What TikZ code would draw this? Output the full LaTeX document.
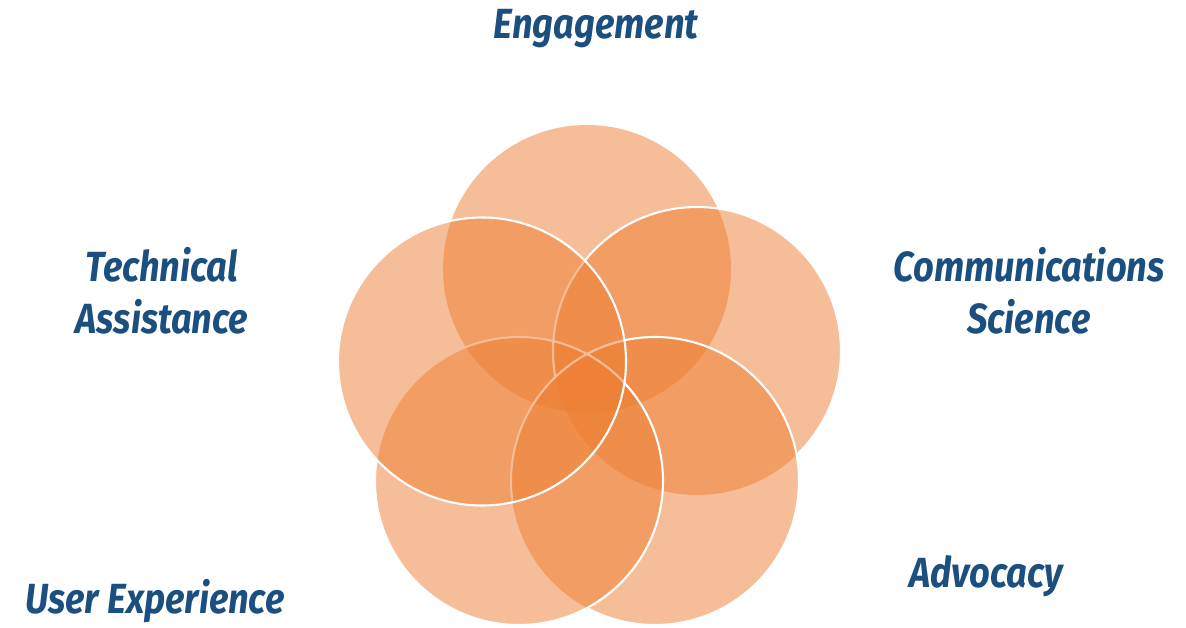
\documentclass[tikz,border=0pt]{standalone}
\usepackage{fontspec}
\newfontfamily\labelfont[FakeStretch=0.86]{Fira Sans}
\definecolor{petalorange}{HTML}{ED7D31}
\definecolor{labelblue}{HTML}{1A4F80}

\begin{document}
\begin{tikzpicture}[
  x=0.02cm, y=0.02cm,
  petal/.style={fill=petalorange, fill opacity=0.5},
  rim/.style={draw=white, line width=1.2pt},
  lbl/.style={font=\labelfont\bfseries\itshape\fontsize{24}{29.6}\selectfont,
              text=labelblue, align=center, anchor=base, inner sep=0pt}
]
\def\rad{144}
\useasboundingbox (0,0) rectangle (1186,627);

%% ── Petal centres ─────────────────────────────────────────────────────────────
\coordinate (eng) at (587,358);
\coordinate (com) at (697,276);
\coordinate (adv) at (655,146);
\coordinate (usr) at (519,146);
\coordinate (tec) at (482,265.5);

%% ── First four petals ─────────────────────────────────────────────────────────
\fill[petal] (eng) circle[radius=\rad];
\fill[petal] (com) circle[radius=\rad];
\fill[petal] (adv) circle[radius=\rad];
\fill[petal] (usr) circle[radius=\rad];

%% ── White rims (they show through the last petal) ────────────────────────────
\begin{scope}[even odd rule]
  \clip (0,0) -- (0,627) -- (1186,627) -- (1186,0) -- cycle
        (adv) circle[radius=\rad];
  \draw[rim] (com) circle[radius=\rad];
\end{scope}
\begin{scope}[even odd rule]
  \clip (0,0) -- (0,627) -- (1186,627) -- (1186,0) -- cycle
        (usr) circle[radius=\rad];
  \draw[rim] (adv) circle[radius=\rad];
\end{scope}
\begin{scope}
  \clip (tec) circle[radius=\rad];
  \draw[rim] (adv) circle[radius=\rad];
\end{scope}
\draw[rim] (usr) circle[radius=\rad];

%% ── Last petal on top ─────────────────────────────────────────────────────────
\fill[petal] (tec) circle[radius=\rad];
\draw[rim] (tec) circle[radius=\rad];

%% ── Labels (base = last line) ─────────────────────────────────────────────────
\node[lbl] (engLbl) at (596,589)  {Engagement};
\node[lbl] (comLbl) at (1029,294) {Communications\\Science};
\node[lbl] (advLbl) at (986,40)   {Advocacy};
\node[lbl] (usrLbl) at (155,14)   {User Experience};
\node[lbl] (tecLbl) at (162,294)  {Technical\\Assistance};

\end{tikzpicture}
\end{document}
